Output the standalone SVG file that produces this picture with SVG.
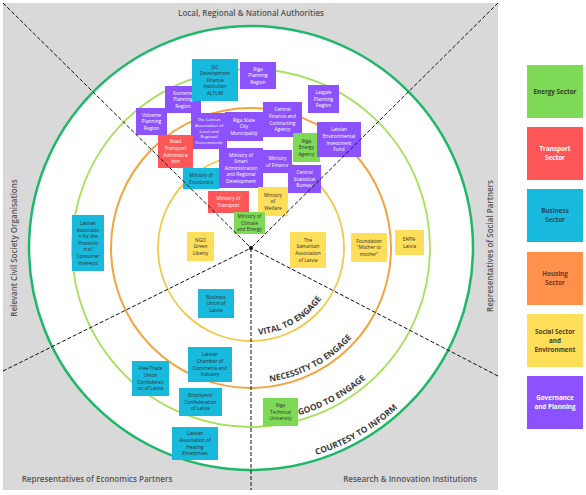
<svg xmlns="http://www.w3.org/2000/svg" width="586" height="495" viewBox="0 0 586 495">
<style>
.p{fill:#8c52ff}.r{fill:#ff5757}.c{fill:#17b9dc}.g{fill:#7ed957}.y{fill:#ffde59}.o{fill:#ff914d}
text{font-family:"Open Sans","Liberation Sans",sans-serif}
.n{font-size:4.8px;text-anchor:middle}
.s{font-size:4.3px}
.w{fill:#ffffff}.d{fill:#2e2e2e}
.sec{font-size:8px;font-weight:600;fill:#555555;text-anchor:middle}
.arc{font-size:8.5px;font-weight:700;fill:#3b3b3b}
.lg{font-size:6.3px;font-weight:700;text-anchor:middle}
.ring{fill:none}
.dash{stroke:#111111;stroke-width:1;stroke-dasharray:4 2;fill:none}
</style>
<defs>
<path id="aVital" d="M258.6,334.7 A87,87 0 0 0 336.7,263.1"/>
<path id="aNec" d="M269.8,381.7 A135,135 0 0 0 384,271.4"/>
<path id="aGood" d="M299,415.3 A174,174 0 0 0 414.5,307.5"/>
<path id="aCourt" d="M316.3,455 A217,217 0 0 0 454.9,322.2"/>
</defs>
<rect x="0" y="0" width="586" height="495" fill="#ffffff"/>
<rect x="3" y="3" width="495" height="487" fill="#d9d9d9"/>
<g id="rings">
<circle cx="251" cy="248" r="222" fill="#ffffff" stroke="#1fb86a" stroke-width="2.5"/>
<circle class="ring" cx="251" cy="248" r="179" stroke="#a8e05c" stroke-width="1.8"/>
<circle class="ring" cx="251" cy="248" r="140" stroke="#f5a340" stroke-width="2"/>
<circle class="ring" cx="251" cy="248" r="93" stroke="#f5c84a" stroke-width="1.8"/>
</g>
<g id="sector-labels">
<text class="sec" x="251" y="16">Local, Regional &amp; National Authorities</text>
<text class="sec" transform="translate(17,248) rotate(-90)">Relevant Civil Society Organisations</text>
<text class="sec" transform="translate(493,246) rotate(-90)">Representatives of Social Partners</text>
<text class="sec" x="97" y="482">Representatives of Economics Partners</text>
<text class="sec" x="410" y="482">Research &amp; Innovation Institutions</text>
</g>
<g id="ring-labels">
<text class="arc"><textPath href="#aVital">VITAL TO ENGAGE</textPath></text>
<text class="arc"><textPath href="#aNec">NECESSITY TO ENGAGE</textPath></text>
<text class="arc"><textPath href="#aGood">GOOD TO ENGAGE</textPath></text>
<text class="arc"><textPath href="#aCourt">COURTESY TO INFORM</textPath></text>
</g>
<g id="kurzeme"><rect class="p" x="165" y="86" width="36" height="27"/><text class="n w" x="183" y="94.6"><tspan x="183">Kurzeme</tspan><tspan x="183" dy="6.6">Planning</tspan><tspan x="183" dy="6.6">Region</tspan></text></g>
<g id="altum"><rect class="c" x="192" y="59" width="46" height="42"/><text class="n d" x="215" y="68.5"><tspan x="215">JSC</tspan><tspan x="215" dy="6.6">Development</tspan><tspan x="215" dy="6.6">Finance</tspan><tspan x="215" dy="6.6">Institution</tspan><tspan x="215" dy="6.6">ALTUM</tspan></text></g>
<g id="riga-planning"><rect class="p" x="240" y="62" width="36" height="27"/><text class="n w" x="258" y="70.6"><tspan x="258">Riga</tspan><tspan x="258" dy="6.6">Planning</tspan><tspan x="258" dy="6.6">Region</tspan></text></g>
<g id="latgale"><rect class="p" x="308" y="85" width="31" height="28"/><text class="n w" x="323.5" y="94.1"><tspan x="323.5">Latgale</tspan><tspan x="323.5" dy="6.6">Planning</tspan><tspan x="323.5" dy="6.6">Region</tspan></text></g>
<g id="vidzeme"><rect class="p" x="136" y="108" width="31" height="27"/><text class="n w" x="151.5" y="116.6"><tspan x="151.5">Vidzeme</tspan><tspan x="151.5" dy="6.6">Planning</tspan><tspan x="151.5" dy="6.6">Region</tspan></text></g>
<g id="lalrg"><rect class="p" x="191" y="113" width="36" height="36"/><text class="n s w" x="209" y="120.7"><tspan x="209">The Latvian</tspan><tspan x="209" dy="5.9">Association of</tspan><tspan x="209" dy="5.9">Local and</tspan><tspan x="209" dy="5.9">Regional</tspan><tspan x="209" dy="5.9">Governments</tspan></text></g>
<g id="riga-city"><rect class="p" x="225" y="112" width="38" height="29"/><text class="n w" x="244" y="121.6"><tspan x="244">Riga State</tspan><tspan x="244" dy="6.6">City</tspan><tspan x="244" dy="6.6">Municipality</tspan></text></g>
<g id="cfca"><rect class="p" x="263" y="102" width="39" height="35"/><text class="n w" x="282.5" y="111.3"><tspan x="282.5">Central</tspan><tspan x="282.5" dy="6.6">Finance and</tspan><tspan x="282.5" dy="6.6">Contracting</tspan><tspan x="282.5" dy="6.6">Agency</tspan></text></g>
<g id="road"><rect class="r" x="158" y="135" width="35" height="33"/><text class="n w" x="175.5" y="143.3"><tspan x="175.5">Road</tspan><tspan x="175.5" dy="6.6">Transport</tspan><tspan x="175.5" dy="6.6">Administra</tspan><tspan x="175.5" dy="6.6">tion</tspan></text></g>
<g id="riga-energy"><rect class="g" x="293" y="133" width="27" height="29"/><text class="n d" x="306.5" y="142.6"><tspan x="306.5">Riga</tspan><tspan x="306.5" dy="6.6">Energy</tspan><tspan x="306.5" dy="6.6">Agency</tspan></text></g>
<g id="leif"><rect class="p" x="317" y="122" width="44" height="35"/><text class="n w" x="339" y="131.3"><tspan x="339">Latvian</tspan><tspan x="339" dy="6.6">Environmental</tspan><tspan x="339" dy="6.6">Investment</tspan><tspan x="339" dy="6.6">Fund</tspan></text></g>
<g id="msard"><rect class="p" x="219" y="148" width="44" height="40"/><text class="n w" x="241" y="156.5"><tspan x="241">Ministry of</tspan><tspan x="241" dy="6.6">Smart</tspan><tspan x="241" dy="6.6">Administration</tspan><tspan x="241" dy="6.6">and Regional</tspan><tspan x="241" dy="6.6">Development</tspan></text></g>
<g id="mof"><rect class="p" x="263" y="150" width="29" height="23"/><text class="n w" x="277.5" y="159.9"><tspan x="277.5">Ministry</tspan><tspan x="277.5" dy="6.6">of Finance</tspan></text></g>
<g id="csb"><rect class="p" x="288" y="165" width="33" height="28"/><text class="n w" x="304.5" y="174.1"><tspan x="304.5">Central</tspan><tspan x="304.5" dy="6.6">Statistical</tspan><tspan x="304.5" dy="6.6">Bureau</tspan></text></g>
<g id="moe"><rect class="c" x="183" y="168" width="36" height="21"/><text class="n d" x="201" y="176.9"><tspan x="201">Ministry of</tspan><tspan x="201" dy="6.6">Economics</tspan></text></g>
<g id="mot"><rect class="r" x="208" y="191" width="41" height="22"/><text class="n w" x="228.5" y="200.4"><tspan x="228.5">Ministry of</tspan><tspan x="228.5" dy="6.6">Transport</tspan></text></g>
<g id="mow"><rect class="y" x="258" y="187" width="30" height="29"/><text class="n d" x="273" y="196.6"><tspan x="273">Ministry</tspan><tspan x="273" dy="6.6">of</tspan><tspan x="273" dy="6.6">Welfare</tspan></text></g>
<g id="mce"><rect class="g" x="234" y="212" width="31" height="22"/><text class="n d" x="249.5" y="218.1"><tspan x="249.5">Ministry of</tspan><tspan x="249.5" dy="6.6">Climate</tspan><tspan x="249.5" dy="6.6">and Energy</tspan></text></g>
<g id="ngo"><rect class="y" x="187" y="232" width="27" height="29"/><text class="n d" x="200.5" y="241.6"><tspan x="200.5">NGO</tspan><tspan x="200.5" dy="6.6">Green</tspan><tspan x="200.5" dy="6.6">Liberty</tspan></text></g>
<g id="samaritan"><rect class="y" x="290" y="232" width="36" height="36"/><text class="n d" x="308" y="241.8"><tspan x="308">The</tspan><tspan x="308" dy="6.6">Samaritan</tspan><tspan x="308" dy="6.6">Association</tspan><tspan x="308" dy="6.6">of Latvia</tspan></text></g>
<g id="mother"><rect class="y" x="351" y="233" width="36" height="29"/><text class="n d" x="369" y="242.6"><tspan x="369">Foundation</tspan><tspan x="369" dy="6.6">“Mother to</tspan><tspan x="369" dy="6.6">mother”</tspan></text></g>
<g id="eapn"><rect class="y" x="395" y="230" width="29" height="25"/><text class="n d" x="409.5" y="240.9"><tspan x="409.5">EAPN-</tspan><tspan x="409.5" dy="6.6">Latvia</tspan></text></g>
<g id="lapci"><rect class="c" x="72" y="215" width="32" height="56"/><text class="n d" x="88" y="224.9"><tspan x="88">Latvian</tspan><tspan x="88" dy="6.6">Associatio</tspan><tspan x="88" dy="6.6">n for the</tspan><tspan x="88" dy="6.6">Protectio</tspan><tspan x="88" dy="6.6">n of</tspan><tspan x="88" dy="6.6">Consumer</tspan><tspan x="88" dy="6.6">Interests</tspan></text></g>
<g id="bul"><rect class="c" x="198" y="289" width="36" height="29"/><text class="n d" x="216" y="298.6"><tspan x="216">Business</tspan><tspan x="216" dy="6.6">Union of</tspan><tspan x="216" dy="6.6">Latvia</tspan></text></g>
<g id="lcci"><rect class="c" x="188" y="347" width="44" height="35"/><text class="n d" x="210" y="356.3"><tspan x="210">Latvian</tspan><tspan x="210" dy="6.6">Chamber of</tspan><tspan x="210" dy="6.6">Commerce and</tspan><tspan x="210" dy="6.6">Industry</tspan></text></g>
<g id="ftuc"><rect class="c" x="132" y="361" width="37" height="35"/><text class="n d" x="150.5" y="370.3"><tspan x="150.5">Free Trade</tspan><tspan x="150.5" dy="6.6">Union</tspan><tspan x="150.5" dy="6.6">Confederati</tspan><tspan x="150.5" dy="6.6">on of Latvia</tspan></text></g>
<g id="ecl"><rect class="c" x="179" y="388" width="43" height="28"/><text class="n d" x="200.5" y="397.1"><tspan x="200.5">Employers'</tspan><tspan x="200.5" dy="6.6">Confederation</tspan><tspan x="200.5" dy="6.6">of Latvia</tspan></text></g>
<g id="lahe"><rect class="c" x="172" y="427" width="46" height="33"/><text class="n d" x="195" y="435.3"><tspan x="195">Latvian</tspan><tspan x="195" dy="6.6">Association of</tspan><tspan x="195" dy="6.6">Heating</tspan><tspan x="195" dy="6.6">Enterprises</tspan></text></g>
<g id="rtu"><rect class="g" x="263" y="398" width="35" height="28"/><text class="n d" x="280.5" y="407.1"><tspan x="280.5">Riga</tspan><tspan x="280.5" dy="6.6">Technical</tspan><tspan x="280.5" dy="6.6">University</tspan></text></g>
<g id="connectors">
<line class="dash" x1="3" y1="3" x2="251" y2="248"/>
<line class="dash" x1="498" y1="3" x2="251" y2="248"/>
<line class="dash" x1="3" y1="371" x2="251" y2="248"/>
<line class="dash" x1="498" y1="376" x2="251" y2="248"/>
<line class="dash" x1="251" y1="248" x2="251" y2="490"/>
<circle cx="251" cy="248" r="2" fill="#111111"/>
</g>
<g id="legend-energy"><rect class="g" x="527" y="65" width="56" height="53"/><text class="lg" x="555" y="93.7" fill="#2f3f2a">Energy Sector</text></g>
<g id="legend-transport"><rect class="r" x="527" y="127" width="56" height="53"/><text class="lg" x="555" y="151.3" fill="#ffffff"><tspan x="555">Transport</tspan><tspan x="555" dy="8.8">Sector</tspan></text></g>
<g id="legend-business"><rect class="c" x="527" y="189" width="56" height="53"/><text class="lg" x="555" y="213.3" fill="#1d4a5e"><tspan x="555">Business</tspan><tspan x="555" dy="8.8">Sector</tspan></text></g>
<g id="legend-housing"><rect class="o" x="527" y="252" width="56" height="53"/><text class="lg" x="555" y="276.3" fill="#6b3a1e"><tspan x="555">Housing</tspan><tspan x="555" dy="8.8">Sector</tspan></text></g>
<g id="legend-social"><rect class="y" x="527" y="314" width="56" height="53"/><text class="lg" x="555" y="333.9" fill="#4a4020"><tspan x="555">Social Sector</tspan><tspan x="555" dy="8.8">and</tspan><tspan x="555" dy="8.8">Environment</tspan></text></g>
<g id="legend-governance"><rect class="p" x="527" y="376" width="56" height="53"/><text class="lg" x="555" y="400.3" fill="#ffffff"><tspan x="555">Governance</tspan><tspan x="555" dy="8.8">and Planning</tspan></text></g>
</svg>
